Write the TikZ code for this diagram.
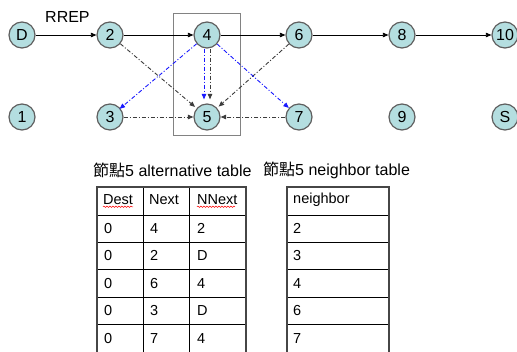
\documentclass[tikz,border=0pt]{standalone}
\usepackage{fontspec}
\setmainfont{Liberation Sans}
\newfontfamily\cjk{Noto Sans CJK TC}
\usetikzlibrary{arrows.meta,decorations.pathmorphing}

\definecolor{nodefill}{RGB}{180,222,224}
\definecolor{nodeline}{RGB}{95,95,95}
\definecolor{linkgray}{RGB}{60,60,60}
\definecolor{linkblue}{RGB}{25,25,255}
\definecolor{boxgray}{RGB}{130,130,130}
\definecolor{framegray}{RGB}{70,70,70}

\begin{document}
\begin{tikzpicture}[x=1pt,y=-1pt,
  host/.style={circle,draw=nodeline,line width=1.2pt,fill=nodefill,
    minimum size=26pt,inner sep=0pt,font=\fontsize{16}{16}\selectfont},
  route/.style={draw=black,line width=0.8pt,-{Triangle[length=5.5pt,width=4.5pt]}},
  backup/.style={draw=linkgray,line width=0.9pt,
    dash pattern=on 4pt off 2pt on 1pt off 2pt,
    -{Triangle[length=5.5pt,width=4.5pt]}},
  probe/.style={backup,draw=linkblue},
  caption/.style={anchor=west,inner sep=0pt,font=\fontsize{16}{16}\selectfont},
  cell/.style={anchor=west,inner sep=0pt,font=\fontsize{14.5}{14.5}\selectfont},
  cellrule/.style={draw=black,line width=0.8pt},
  frame/.style={draw=framegray,line width=2pt},
  spell/.style={draw=red,line width=0.5pt,decorate,
    decoration={snake,amplitude=0.7pt,segment length=3pt}},
]
\useasboundingbox (0,0) rectangle (517,351);

% highlight box around nodes 4 and 5
\draw[boxgray,line width=0.9pt] (173,13) rectangle (240,135);

% hosts
\node[host] (nD) at (22,35) {D};
\node[host] (n2) at (110,35) {2};
\node[host] (n4) at (207,35) {4};
\node[host] (n6) at (299,35) {6};
\node[host] (n8) at (402,35) {8};
\node[host] (n10) at (505,35) {10};
\node[host] (n1) at (22,117) {1};
\node[host] (n3) at (110,117) {3};
\node[host] (n5) at (207,117) {5};
\node[host] (n7) at (299,117) {7};
\node[host] (n9) at (402,117) {9};
\node[host] (nS) at (505,117) {S};

\node[anchor=west,inner sep=0pt,font=\fontsize{16}{16}\selectfont] (rrep) at (45,17) {RREP};

% reply path
\draw[route] (nD) -- (n2);
\draw[route] (n2) -- (n4);
\draw[route] (n4) -- (n6);
\draw[route] (n6) -- (n8);
\draw[route] (n8) -- (n10);

% overheard links towards node 5
\draw[backup,shorten >=2pt] (n2) -- (n5);
\draw[backup,shorten >=2pt] (n6) -- (n5);
\draw[backup] (n3) -- (n5);
\draw[backup] (n7) -- (n5);
\draw[backup,shorten >=4pt] ([xshift=3pt]n4.south) -- ([xshift=3pt]n5.north);
\draw[probe,shorten >=4pt] ([xshift=-3pt]n4.south) -- ([xshift=-3pt]n5.north);
\draw[probe,shorten >=-1pt] (n4) -- (n3);
\draw[probe] (n4) -- (n7);

% captions
\node[caption] (altcap) at (93,170) {{\cjk 節點}5 alternative table};
\node[caption] (nbcap) at (263,170) {{\cjk 節點}5 neighbor table};

% table grids
\foreach \y in {215,242,269,297,324} {
  \draw[cellrule] (97,\y) -- (246,\y);
  \draw[cellrule] (287,\y) -- (389,\y);
}
\draw[cellrule] (143,187) -- (143,353);
\draw[cellrule] (189,187) -- (189,353);
\draw[frame] (97,353) -- (97,187) -- (246,187) -- (246,353);
\draw[frame] (287,353) -- (287,187) -- (389,187) -- (389,353);

% headers
\node[cell] (hdest) at (103,200) {Dest};
\node[cell] (hnext) at (149,200) {Next};
\node[cell] (hnnext) at (197,200) {NNext};
\node[cell] (hnb) at (293,200) {neighbor};
\draw[spell] (hdest.south west) ++(0,1.5) -- ++(30,0);
\draw[spell] (hnnext.south west) ++(0,1.5) -- ++(38,0);

% table rows
\foreach \nx/\nnx/\nb [count=\i] in {4/2/2, 2/D/3, 6/4/4, 3/D/6, 7/4/7} {
  \pgfmathsetmacro{\ry}{228.5+(\i-1)*27.4}
  \node[cell] (dest\i) at (104,\ry) {0};
  \node[cell] (next\i) at (150,\ry) {\nx};
  \node[cell] (nnext\i) at (197,\ry) {\nnx};
  \node[cell] (nb\i) at (293,\ry) {\nb};
}
\end{tikzpicture}
\end{document}
